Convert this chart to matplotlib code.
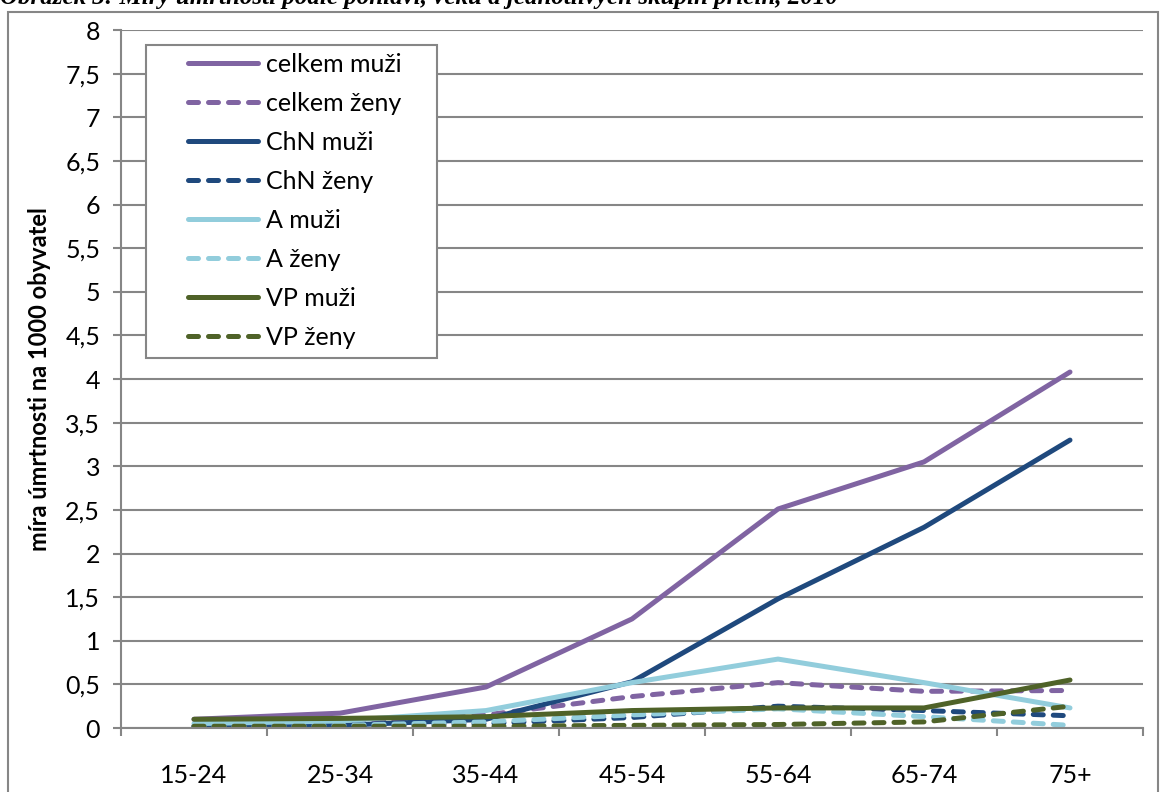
import numpy as np
import matplotlib.pyplot as plt
from matplotlib.patches import Rectangle

plt.rcParams['font.family'] = ['Lato', 'DejaVu Sans']

# age groups and mortality rates per 1000 inhabitants
age_groups = ["15-24", "25-34", "35-44", "45-54", "55-64", "65-74", "75+"]
celkem_muzi = [0.10, 0.17, 0.47, 1.25, 2.51, 3.05, 4.08]
celkem_zeny = [0.02, 0.04, 0.15, 0.36, 0.52, 0.42, 0.43]
chn_muzi = [0.02, 0.03, 0.10, 0.53, 1.48, 2.30, 3.30]
chn_zeny = [0.01, 0.02, 0.05, 0.12, 0.25, 0.20, 0.14]
a_muzi = [0.05, 0.08, 0.20, 0.52, 0.79, 0.52, 0.23]
a_zeny = [0.01, 0.03, 0.07, 0.15, 0.22, 0.13, 0.03]
vp_muzi = [0.10, 0.11, 0.13, 0.20, 0.23, 0.23, 0.55]
vp_zeny = [0.02, 0.02, 0.02, 0.03, 0.04, 0.07, 0.25]

series = [
    ("celkem muži", celkem_muzi, "#8064A2", "-"),
    ("celkem ženy", celkem_zeny, "#8064A2", "--"),
    ("ChN muži", chn_muzi, "#1F497D", "-"),
    ("ChN ženy", chn_zeny, "#1F497D", "--"),
    ("A muži", a_muzi, "#92CDDC", "-"),
    ("A ženy", a_zeny, "#92CDDC", "--"),
    ("VP muži", vp_muzi, "#4F6228", "-"),
    ("VP ženy", vp_zeny, "#4F6228", "--"),
]

grid_col = "#868686"
fig = plt.figure(figsize=(11.6, 7.92), dpi=100)

# chart frame
fig.patches.append(Rectangle((8 / 1160, -0.05), 1150 / 1160, 1.05 - 12 / 792,
                             transform=fig.transFigure, fill=False,
                             edgecolor=grid_col, linewidth=1.5))
fig.text(0.0, 1 - 4 / 792,
         "Obrázek 3: Míry úmrtnosti podle pohlaví, věku a jednotlivých skupin příčin, 2010",
         family="Liberation Serif", weight="bold", style="italic", fontsize=18,
         va="baseline", ha="left")

ax = fig.add_axes([121 / 1160, 1 - 728 / 792, 1022 / 1160, 698 / 792])
x = np.arange(len(age_groups)) + 0.5
for name, vals, col, ls in series:
    line, = ax.plot(x, vals, color=col, linewidth=3.6, label=name,
                    solid_capstyle="round", dash_capstyle="round",
                    solid_joinstyle="round")
    if ls == "--":
        line.set_dashes((2.0, 2.0))

ax.set_xlim(0, len(age_groups))
ax.set_ylim(0, 8)
yt = np.arange(0, 8.01, 0.5)
ax.set_yticks(yt)
ax.set_yticklabels([("%g" % v).replace(".", ",") for v in yt], fontsize=18)
ax.set_xticks(np.arange(len(age_groups) + 1))
ax.set_xticklabels([])
ax.set_xticks(x, minor=True)
ax.set_xticklabels(age_groups, minor=True, fontsize=18)
ax.tick_params(axis="x", which="minor", length=0, pad=26)
ax.tick_params(axis="x", which="major", length=6, width=1.5, color=grid_col)
ax.tick_params(axis="y", length=6, width=1.5, color=grid_col, pad=9)
ax.yaxis.grid(True, color=grid_col, linewidth=1.5)
ax.set_axisbelow(True)
for s in ["top", "right"]:
    ax.spines[s].set_visible(False)
for s in ["left", "bottom"]:
    ax.spines[s].set_color(grid_col)
    ax.spines[s].set_linewidth(1.5)

ax.set_ylabel("míra úmrtnosti na 1000 obyvatel", fontsize=17, weight="bold",
              labelpad=10)

# legend box with wide side padding
ax.add_patch(Rectangle((0.0245, 0.530), 0.2847, 0.4484, transform=ax.transAxes,
                       facecolor="white", edgecolor=grid_col, linewidth=1.5,
                       zorder=4))
leg = ax.legend(loc="upper left", bbox_to_anchor=(0.0656, 0.967), fontsize=18,
                frameon=False, handlelength=2.8, labelspacing=0.64,
                handletextpad=0.3, borderpad=0, borderaxespad=0)
leg.set_zorder(5)

fig.savefig("out.png", dpi=100)
